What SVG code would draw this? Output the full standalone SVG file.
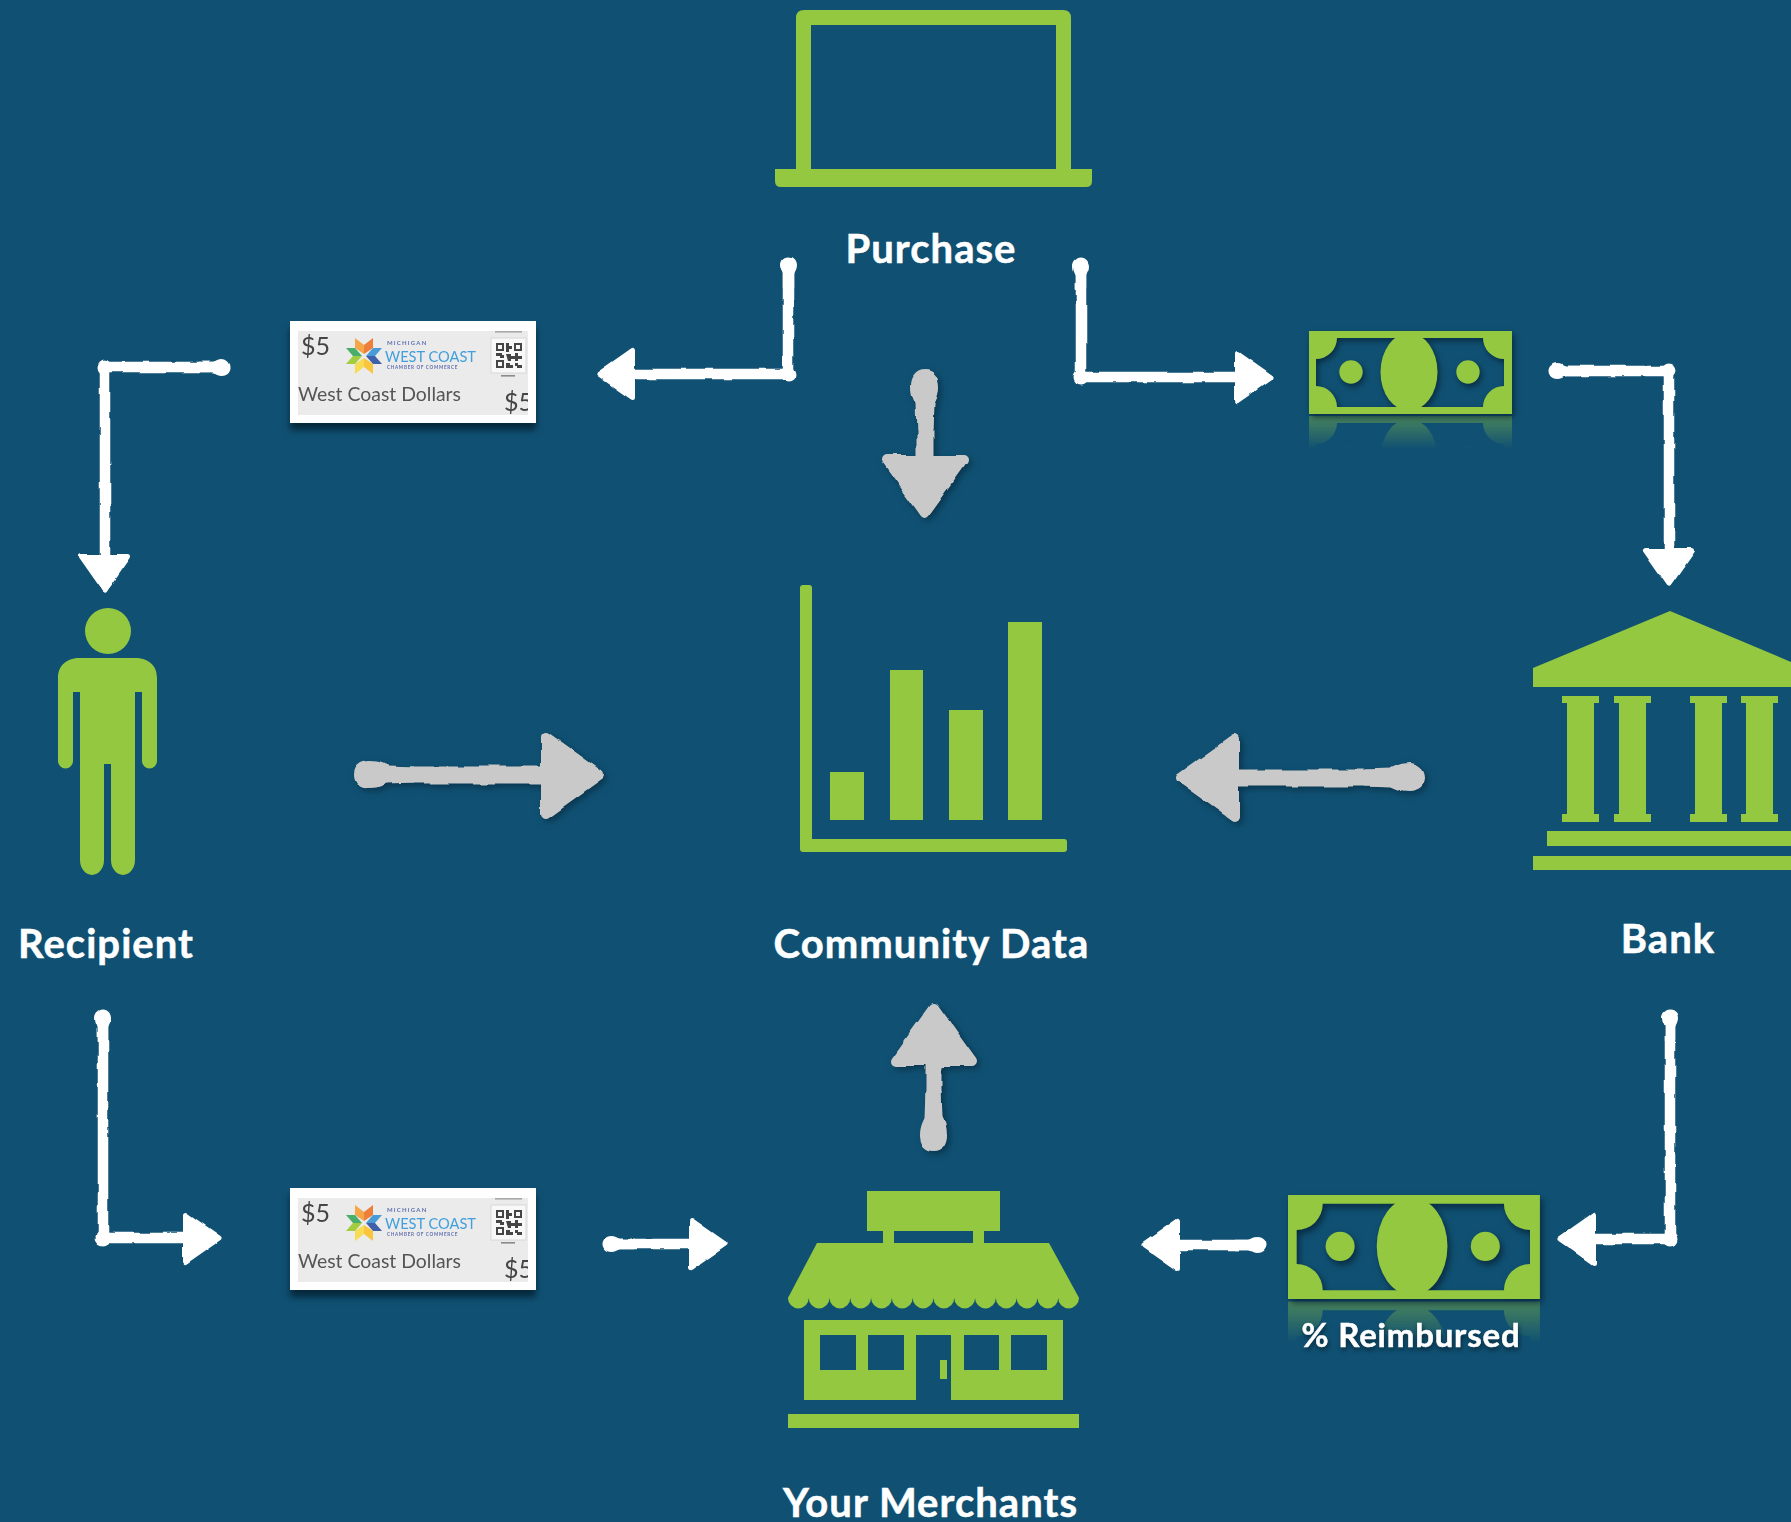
<svg xmlns="http://www.w3.org/2000/svg" xmlns:xlink="http://www.w3.org/1999/xlink" width="1791" height="1522" viewBox="0 0 1791 1522">
<style>
.g{fill:#94c840}
.lbl{font-family:"Lato","Liberation Sans",sans-serif;font-weight:700;fill:#fff;stroke:#fff;stroke-width:.5px;text-anchor:middle;font-size:40px;letter-spacing:1.05px}
.conn{fill:none;stroke:#fff;stroke-width:10.5;stroke-linejoin:round;marker-start:url(#bulbW);marker-mid:url(#elbowW);marker-end:url(#headW)}
.gray{fill:none;stroke:#c9c9c9;stroke-width:17;marker-start:url(#bulbG);marker-end:url(#headG)}
.tw{fill:#fff}
.tg{fill:#ebebeb}
.tt{font-family:"Lato","Liberation Sans",sans-serif;fill:#555}
.big{font-size:25px;fill:#444}
.wcd{font-size:20px}
.mi{font-size:6px;font-weight:700;fill:#5f6fae;letter-spacing:1.2px}
.wc{font-size:16px;fill:#3f9fdc}
.ch{font-size:4.6px;font-weight:700;fill:#5f6fae;letter-spacing:.7px}
</style>
<defs>
<filter id="rough" filterUnits="userSpaceOnUse" x="0" y="0" width="1791" height="1522" color-interpolation-filters="sRGB">
<feTurbulence type="fractalNoise" baseFrequency="0.05" numOctaves="2" seed="4" result="n"/>
<feDisplacementMap in="SourceGraphic" in2="n" scale="4" xChannelSelector="R" yChannelSelector="G"/>
<feGaussianBlur stdDeviation="0.6"/>
</filter>
<filter id="roughShadow" filterUnits="userSpaceOnUse" x="0" y="0" width="1791" height="1522" color-interpolation-filters="sRGB">
<feTurbulence type="fractalNoise" baseFrequency="0.045" numOctaves="2" seed="9" result="n"/>
<feDisplacementMap in="SourceGraphic" in2="n" scale="6" xChannelSelector="R" yChannelSelector="G"/>
<feGaussianBlur stdDeviation="0.6"/>
<feDropShadow dx="3" dy="3" stdDeviation="3.5" flood-color="#06263a" flood-opacity=".65"/>
</filter>
<filter id="billShadow" x="-10%" y="-10%" width="120%" height="125%" color-interpolation-filters="sRGB">
<feDropShadow dx="2" dy="3" stdDeviation="3" flood-color="#062033" flood-opacity=".8"/>
</filter>
<filter id="textShadow" x="-10%" y="-20%" width="120%" height="150%" color-interpolation-filters="sRGB">
<feDropShadow dx="1" dy="3" stdDeviation="2.5" flood-color="#04202f" flood-opacity=".8"/>
</filter>
<filter id="soft" x="-5%" y="-5%" width="110%" height="120%"><feGaussianBlur stdDeviation="0.5"/></filter>
<filter id="ticketShadow" x="-10%" y="-10%" width="120%" height="130%" color-interpolation-filters="sRGB">
<feDropShadow dx="0" dy="7" stdDeviation="3.5" flood-color="#04202f" flood-opacity=".85"/>
</filter>
<marker id="headW" markerUnits="userSpaceOnUse" viewBox="-5 -32 50 64" markerWidth="50" markerHeight="64" refX="0" refY="0" orient="auto" overflow="visible">
<path d="M2.5 -23.5L36 0L2.5 23.5Z" fill="#fff" stroke="#fff" stroke-width="5" stroke-linejoin="round"/>
</marker>
<marker id="bulbW" markerUnits="userSpaceOnUse" viewBox="-10 -10 40 20" markerWidth="40" markerHeight="20" refX="0" refY="0" orient="auto" overflow="visible">
<path fill="#fff" d="M-7.500 0C-7.500 -5 -3 -8 1 -8C5 -8 7 -6 10 -5.200L24 -5.200V5.200L10 5.200C7 6 5 8 1 8C-3 8 -7.500 5 -7.500 0Z"/>
</marker>
<marker id="elbowW" markerUnits="userSpaceOnUse" viewBox="-10 -10 20 20" markerWidth="20" markerHeight="20" refX="0" refY="0" overflow="visible">
<circle r="7.5" fill="#fff"/>
</marker>
<marker id="headG" markerUnits="userSpaceOnUse" viewBox="-8 -50 80 100" markerWidth="80" markerHeight="100" refX="0" refY="0" orient="auto" overflow="visible">
<path d="M5 -38L58 0L5 38Z" fill="#c9c9c9" stroke="#c9c9c9" stroke-width="10" stroke-linejoin="round"/>
</marker>
<marker id="bulbG" markerUnits="userSpaceOnUse" viewBox="-17 -17 70 34" markerWidth="70" markerHeight="34" refX="0" refY="0" orient="auto" overflow="visible">
<path fill="#c9c9c9" d="M-14 0C-14 -9 -7 -14 2 -14C12 -14 16 -11 20 -9.500L46 -8.500V8.500L20 9.500C16 11 12 14 2 14C-7 14 -14 9 -14 0Z"/>
</marker>
<linearGradient id="fadeGrad" gradientUnits="userSpaceOnUse" x1="0" y1="84" x2="0" y2="118">
<stop offset="0" stop-color="#fff" stop-opacity=".45"/>
<stop offset="1" stop-color="#fff" stop-opacity="0"/>
</linearGradient>
<mask id="fade" maskUnits="userSpaceOnUse" x="-5" y="80" width="215" height="45">
<rect x="-5" y="80" width="215" height="45" fill="url(#fadeGrad)"/>
</mask>
<g id="billShape" class="g">
<path fill-rule="evenodd" d="M0 0H203V83H0ZM28 7H174A21 21 0 0 0 195 28V55A21 21 0 0 0 174 76H28A21 21 0 0 0 7 55V28A21 21 0 0 0 28 7Z"/>
<ellipse cx="100" cy="41" rx="28.5" ry="39"/>
<circle cx="42" cy="41" r="11.7"/>
<circle cx="159" cy="41" r="11.7"/>
</g>
<g id="bill">
<g mask="url(#fade)"><use href="#billShape" transform="matrix(1 0 0 -1 0 168)"/></g>
<use href="#billShape" filter="url(#billShadow)"/>
</g>
<g id="star">
<path fill="#f4a64a" d="M0 -2L-9 -8L-9 -18L0 -11Z"/><path fill="#ee7f3a" d="M0 -2L9 -8L9 -18L0 -11Z"/>
<path fill="#4a9bd8" d="M2 0L9 -8L18 -8L11 0Z"/><path fill="#3f5fa8" d="M2 0L9 8L18 8L11 0Z"/>
<path fill="#f6dc55" d="M0 2L-9 8L-9 18L0 11Z"/><path fill="#f9c53c" d="M0 2L9 8L9 18L0 11Z"/>
<path fill="#49ae6a" d="M-2 0L-9 -8L-18 -8L-11 0Z"/><path fill="#a3cc3f" d="M-2 0L-9 8L-18 8L-11 0Z"/>
</g>
<g id="qr">
<rect x="491" y="338" width="35" height="35" fill="#f8f8f8" stroke="#d8d8d8"/>
<path fill="#444" fill-rule="evenodd" d="M496 343h8v8h-8zM498 345v4h4v-4zM514 343h8v8h-8zM516 345v4h4v-4zM496 360h8v8h-8zM498 362v4h4v-4zM506 343h3v3h3v3h-3v3h-3zM506 354h5v2h4v-3h3v3h4v3h-4v2h-3v-2h-4v2h-3zM496 353h6v2h2v3h-4v-2h-4zM506 363h4v2h3v3h-7zM515 363h3v2h4v3h-5v-2h-2z"/>
<rect x="495" y="331" width="27" height="1.6" fill="#a8a8a8"/>
<rect x="501" y="375" width="14" height="1.6" fill="#8a8a8a"/>
</g>
</defs>
<rect id="background" width="1791" height="1522" fill="#105173"/>

<g id="node-purchase">
<path class="g" fill-rule="evenodd" d="M804 10H1063Q1071 10 1071 18V169H1092V181Q1092 187 1086 187H781Q775 187 775 181V169H796V18Q796 10 804 10ZM811 25V169H1056V25Z"/>
<text class="lbl" x="931" y="263">Purchase</text>
</g>

<g id="node-data">
<path class="g" d="M803 585H809Q812 585 812 588V839H1064Q1067 839 1067 842V849Q1067 852 1064 852H803Q800 852 800 849V588Q800 585 803 585Z"/>
<rect class="g" x="830" y="772" width="34" height="48"/>
<rect class="g" x="890" y="670" width="33" height="150"/>
<rect class="g" x="949" y="710" width="34" height="110"/>
<rect class="g" x="1008" y="622" width="34" height="198"/>
<text class="lbl" x="931.500" y="958">Community Data</text>
</g>

<g id="node-recipient">
<circle class="g" cx="108" cy="631" r="23"/>
<path class="g" d="M80 658H135C148 658 157 665 157 678V761A7.500 7.500 0 0 1 142 761V692H135V860A12 15 0 0 1 111 860V764H104V860A12 15 0 0 1 80 860V692H73V761A7.500 7.500 0 0 1 58 761V678C58 665 67 658 80 658Z"/>
<text class="lbl" x="106" y="958">Recipient</text>
</g>

<g id="node-bank">
<path class="g" d="M1533 668L1670 611L1791 662V687H1533Z"/>
<path class="g" d="M1562 696H1599V703H1594V814H1599V822H1562V814H1567V703H1562ZM1614 696H1651V703H1646V814H1651V822H1614V814H1619V703H1614ZM1690 696H1727V703H1722V814H1727V822H1690V814H1695V703H1690ZM1741 696H1778V703H1773V814H1778V822H1741V814H1746V703H1741Z"/>
<rect class="g" x="1547" y="831" width="244" height="15"/>
<rect class="g" x="1533" y="856" width="258" height="14"/>
<text class="lbl" x="1668" y="953">Bank</text>
</g>

<g id="node-merchants">
<rect class="g" x="867" y="1191" width="133" height="40"/>
<rect class="g" x="883" y="1231" width="11" height="13"/>
<rect class="g" x="973" y="1231" width="11" height="13"/>
<path class="g" d="M817 1243H1049L1078 1296A5 5 0 0 1 1079 1298a10.390 10.390 0 0 1 -20.790 0a10.390 10.390 0 0 1 -20.790 0a10.390 10.390 0 0 1 -20.790 0a10.390 10.390 0 0 1 -20.790 0a10.390 10.390 0 0 1 -20.790 0a10.390 10.390 0 0 1 -20.790 0a10.390 10.390 0 0 1 -20.790 0a10.390 10.390 0 0 1 -20.790 0a10.390 10.390 0 0 1 -20.790 0a10.390 10.390 0 0 1 -20.790 0a10.390 10.390 0 0 1 -20.790 0a10.390 10.390 0 0 1 -20.790 0a10.390 10.390 0 0 1 -20.790 0a10.390 10.390 0 0 1 -20.790 0A5 5 0 0 1 789 1296Z"/>
<path class="g" fill-rule="evenodd" d="M804 1320H1063V1400H951V1335H916V1400H804ZM820 1335V1370H856V1335ZM868 1335V1370H904V1335ZM964 1335V1370H999V1335ZM1011 1335V1370H1047V1335Z"/>
<rect class="g" x="940" y="1360" width="7" height="19"/>
<rect class="g" x="788" y="1414" width="291" height="14"/>
<text class="lbl" x="930.500" y="1517">Your Merchants</text>
</g>

<g id="node-bill-top">
<use href="#bill" transform="translate(1309 331)"/>
</g>

<g id="node-bill-reimbursed">
<use href="#bill" transform="translate(1288 1195) scale(1.241 1.253)"/>
<text class="lbl" x="1411" y="1347" style="font-size:33px;letter-spacing:.8px" filter="url(#textShadow)">% Reimbursed</text>
</g>

<g id="node-ticket-top">
<rect class="tw" x="290" y="321" width="246" height="102" filter="url(#ticketShadow)"/>
<g filter="url(#soft)">
<rect class="tg" x="298" y="331" width="230" height="84"/>
<text class="tt big" x="301" y="355">$5</text>
<use href="#star" x="364" y="356"/>
<text class="tt mi" x="387" y="345">MICHIGAN</text>
<text class="tt wc" x="385" y="362" textLength="91" lengthAdjust="spacingAndGlyphs">WEST COAST</text>
<text class="tt ch" x="387" y="369">CHAMBER OF COMMERCE</text>
<use href="#qr"/>
<text class="tt wcd" x="298" y="401" textLength="163" lengthAdjust="spacingAndGlyphs">West Coast Dollars</text>
<svg x="298" y="331" width="230" height="84"><text class="tt big" x="206" y="80">$5</text></svg>
</g>
</g>

<g id="node-ticket-bottom">
<rect class="tw" x="290" y="1188" width="246" height="102" filter="url(#ticketShadow)"/>
<g filter="url(#soft)">
<rect class="tg" x="298" y="1198" width="230" height="84"/>
<text class="tt big" x="301" y="1222">$5</text>
<use href="#star" x="364" y="1223"/>
<text class="tt mi" x="387" y="1212">MICHIGAN</text>
<text class="tt wc" x="385" y="1229" textLength="91" lengthAdjust="spacingAndGlyphs">WEST COAST</text>
<text class="tt ch" x="387" y="1236">CHAMBER OF COMMERCE</text>
<use href="#qr" y="867"/>
<text class="tt wcd" x="298" y="1268" textLength="163" lengthAdjust="spacingAndGlyphs">West Coast Dollars</text>
<svg x="298" y="1198" width="230" height="84"><text class="tt big" x="206" y="80">$5</text></svg>
</g>
</g>

<g id="connectors">
<g id="connectors-white" filter="url(#rough)">
<path class="conn" d="M788 264V374H635"/>
<path class="conn" d="M1081 265V377H1235"/>
<path class="conn" d="M1556 371H1669V548"/>
<path class="conn" d="M223 367H105V554"/>
<path class="conn" d="M103 1017V1238H183"/>
<path class="conn" d="M610 1244H689"/>
<path class="conn" d="M1259 1245H1180"/>
<path class="conn" d="M1670 1017V1239H1596"/>
</g>
<g id="connectors-data" filter="url(#roughShadow)">
<path class="gray" d="M925 384V455"/>
<path class="gray" d="M368 775H541"/>
<path class="gray" d="M1411 778H1239"/>
<path class="gray" d="M934 1137V1066"/>
</g>
</g>
</svg>
